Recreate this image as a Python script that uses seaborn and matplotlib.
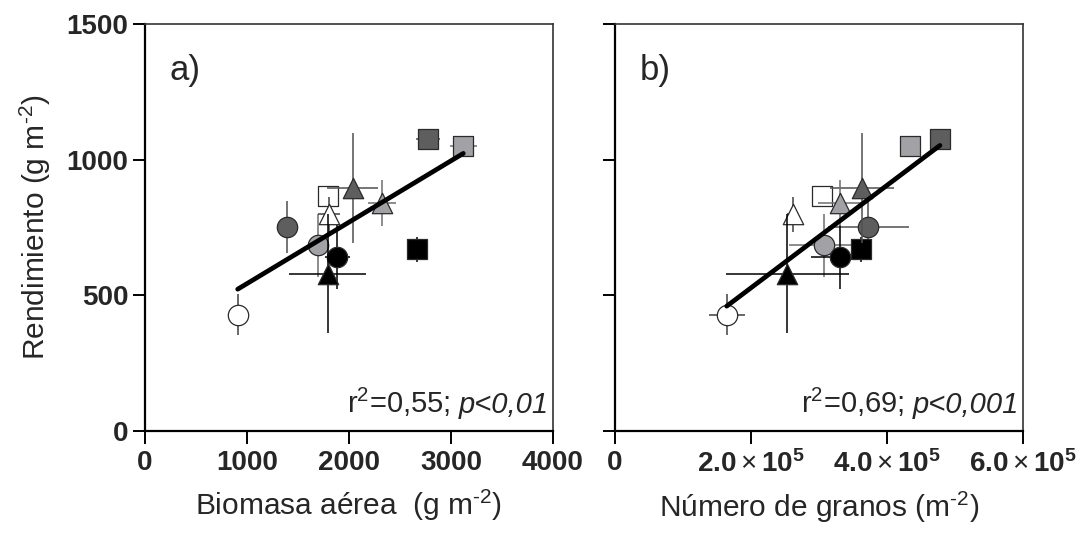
import numpy as np
import pandas as pd
import matplotlib
matplotlib.use("Agg")
import matplotlib.pyplot as plt
from matplotlib.offsetbox import TextArea, HPacker, AnchoredOffsetbox
import seaborn as sns

# --- data: one entry per treatment ---------------------------------------
forma = ["o", "o", "o", "o", "s", "s", "s", "s", "^", "^", "^", "^"]
tono = ["blanco", "oscuro", "claro", "negro",
        "blanco", "oscuro", "claro", "negro",
        "blanco", "oscuro", "claro", "negro"]

rendimiento = [429, 752, 684, 641, 865, 1077, 1050, 669, 798, 895, 840, 580]
rendimiento_ee = [75, 97, 117, 117, 0, 20, 20, 46, 64, 203, 86, 218]

biomasa = [909, 1395, 1693, 1887, 1797, 2775, 3121, 2670, 1804, 2036, 2326, 1791]
biomasa_ee = [0, 0, 0, 122, 0, 122, 130, 30, 108, 253, 136, 377]

granos = [164300, 372500, 307800, 330900, 304000, 477900, 433800, 361800,
          261300, 362800, 330900, 253400]
granos_ee = [26200, 59300, 51500, 42600, 0, 8000, 8000, 8000,
             8000, 47000, 31900, 90100]

r2_texto = [r"r$^{\text{2}}$=0,55;", r"r$^{\text{2}}$=0,69;"]
p_texto = ["p<0,01", "p<0,001"]
paneles = ["a)", "b)"]
x_titulos = [r"Biomasa aérea  (g m$^{\text{-2}}$)", r"Número de granos (m$^{\text{-2}}$)"]
y_titulo = r"Rendimiento (g m$^{\text{-2}}$)"
y_ticks = [0, 500, 1000, 1500]
x_ticks_a = [0, 1000, 2000, 3000, 4000]
x_ticks_b = [0, 2e5, 4e5, 6e5]
x_ticklabels_b = ["0", r"$\mathbf{2.0}\times\mathbf{10}^{\mathbf{5}}$",
                  r"$\mathbf{4.0}\times\mathbf{10}^{\mathbf{5}}$",
                  r"$\mathbf{6.0}\times\mathbf{10}^{\mathbf{5}}$"]

df = pd.DataFrame({"forma": forma, "tono": tono, "rend": rendimiento,
                   "rend_ee": rendimiento_ee, "biomasa": biomasa,
                   "biomasa_ee": biomasa_ee, "granos": granos,
                   "granos_ee": granos_ee})

relleno = {"blanco": "#ffffff", "oscuro": "#5e5e5e", "claro": "#a2a2a6", "negro": "#000000"}
linea_ee = {"blanco": "#404040", "oscuro": "#505050", "claro": "#6e6e6e", "negro": "#000000"}

# --- style ---------------------------------------------------------------
sns.set_theme(style="ticks")
plt.rcParams["font.family"] = ["Liberation Sans", "DejaVu Sans"]
plt.rcParams["mathtext.fontset"] = "custom"
plt.rcParams["mathtext.rm"] = "Liberation Sans"
plt.rcParams["mathtext.it"] = "Liberation Sans:italic"
plt.rcParams["mathtext.bf"] = "Liberation Sans:bold"

fig = plt.figure(figsize=(10.9, 5.37), dpi=100)
ax_a = fig.add_axes([0.1330, 0.1974, 0.3743, 0.7579])
ax_b = fig.add_axes([0.5642, 0.1974, 0.3743, 0.7579])


def dibujar(ax, xcol, ecol):
    for i, fila in df.iterrows():
        base = 2 + 2 * i
        ax.errorbar(fila[xcol], fila["rend"], xerr=fila[ecol], yerr=fila["rend_ee"],
                    fmt="none", ecolor=linea_ee[fila["tono"]], elinewidth=1.1,
                    capsize=0, zorder=base)
        sns.scatterplot(x=[fila[xcol]], y=[fila["rend"]], marker=fila["forma"],
                        color=relleno[fila["tono"]], edgecolor="#2a2a2a",
                        linewidth=0.9, s=215, ax=ax, zorder=base + 1, legend=False)
    sns.regplot(data=df, x=xcol, y="rend", scatter=False, ci=None, truncate=True,
                color="black", line_kws={"lw": 3.4, "zorder": 100}, ax=ax)


dibujar(ax_a, "biomasa", "biomasa_ee")
dibujar(ax_b, "granos", "granos_ee")

for k, ax in enumerate([ax_a, ax_b]):
    ax.set_ylim(0, 1500)
    ax.set_yticks(y_ticks)
    ax.set_xlabel(x_titulos[k], fontsize=21.5, labelpad=8)
    ax.tick_params(axis="both", direction="out", length=9, width=1.4,
                   labelsize=20, color="black")
    ax.tick_params(axis="x", pad=5)
    ax.tick_params(axis="y", pad=3)
    for lado in ["left", "bottom"]:
        ax.spines[lado].set_linewidth(1.6)
        ax.spines[lado].set_color("black")
    for lado in ["top", "right"]:
        ax.spines[lado].set_visible(True)
        ax.spines[lado].set_linewidth(1.2)
        ax.spines[lado].set_color("#333333")
    ax.text(0.06, 0.885, paneles[k], transform=ax.transAxes, fontsize=25,
            va="center", ha="left")
    caja = HPacker(children=[TextArea(r2_texto[k], textprops=dict(fontsize=21)),
                             TextArea(p_texto[k], textprops=dict(fontsize=21, style="italic"))],
                   align="baseline", pad=0, sep=6)
    ancla = AnchoredOffsetbox(loc="lower right", child=caja, pad=0, frameon=False,
                              bbox_to_anchor=(0.99, 0.03), bbox_transform=ax.transAxes,
                              borderpad=0)
    ax.add_artist(ancla)

ax_a.set_xlim(0, 4000)
ax_a.set_xticks(x_ticks_a)
ax_a.set_xticklabels([str(v) for v in x_ticks_a], fontweight="bold")
ax_a.set_yticklabels([str(v) for v in y_ticks], fontweight="bold")
ax_a.set_ylabel(y_titulo, fontsize=21.5, labelpad=10)

ax_b.set_xlim(0, 6e5)
ax_b.set_xticks(x_ticks_b)
ax_b.set_xticklabels(x_ticklabels_b, fontweight="bold")
ax_b.set_yticklabels([])
ax_b.set_ylabel("")

fig.savefig("out.png", dpi=100)
